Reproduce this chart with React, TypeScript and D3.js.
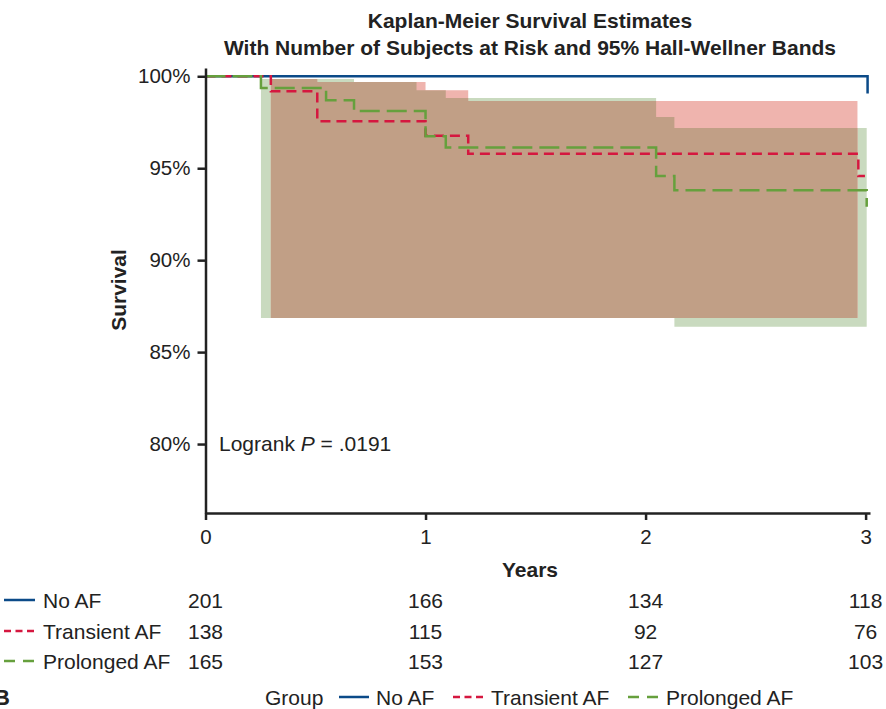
import { useEffect, useRef } from 'react';
import * as d3 from 'd3';

// titles / labels
const titleLines = ['Kaplan-Meier Survival Estimates', 'With Number of Subjects at Risk and 95% Hall-Wellner Bands'];
const groups = ['No AF', 'Transient AF', 'Prolonged AF'];

// KM step curves (years, survival %)
const noAfTime = [0, 3.009];
const noAfSurv = [100, 99.06];
const transientTime = [0, 0.297, 0.508, 1.0, 1.194, 2.967, 2.997];
const transientSurv = [100, 99.18, 97.55, 96.76, 95.78, 94.58, 94.58];
const prolongedTime = [0, 0.252, 0.548, 0.675, 1.0, 1.092, 2.048, 2.131, 3.005];
const prolongedSurv = [100, 99.36, 98.7, 98.11, 96.74, 96.13, 94.58, 93.8, 92.9];

// Hall-Wellner bands
const transientBandTime = [0.297, 0.508, 1.0, 1.194, 2.963];
const transientBandUpper = [99.85, 99.69, 99.24, 98.66, 98.66];
const transientBandLower = [86.86, 86.86, 86.86, 86.86, 86.86];
const prolongedBandTime = [0.252, 0.675, 0.959, 1.092, 2.048, 2.131, 3.005];
const prolongedBandUpper = [99.85, 99.69, 99.24, 98.82, 97.79, 97.19, 97.19];
const prolongedBandLower = [86.86, 86.86, 86.86, 86.86, 86.86, 86.38, 86.38];

// axes
const yearTicks = [0, 1, 2, 3];
const survTicks = [80, 85, 90, 95, 100];

// number at risk
const atRiskNoAf = [201, 166, 134, 118];
const atRiskTransient = [138, 115, 92, 76];
const atRiskProlonged = [165, 153, 127, 103];

const W = 886;
const H = 709;
const FONT = '"Liberation Sans", Arial, Helvetica, sans-serif';
const INK = '#222';
const lineColors = ['#0b4a88', '#d5173f', '#66a03d'];
const lineDash = [null, '10,6', '20,7'];
const legendDash = [null, '7,4.5', '11,8'];

export default function App() {
  const svgRef = useRef<SVGSVGElement>(null);

  useEffect(() => {
    const svg = d3.select(svgRef.current);
    svg.selectAll('*').remove();

    const x = d3.scaleLinear().domain([0, 3.02]).range([205.5, 870]);
    const y = d3.scaleLinear().domain([76.25, 100.45]).range([513, 68]);

    // bands
    const zip3 = (t: number[], lo: number[], hi: number[]) => t.map((d, i) => ({ t: d, lo: lo[i], hi: hi[i] }));
    const area = d3.area<any>()
      .x(d => x(d.t))
      .y0(d => y(d.lo))
      .y1(d => y(d.hi))
      .curve(d3.curveStepAfter);

    const greenBand = zip3(prolongedBandTime, prolongedBandLower, prolongedBandUpper);
    const redBand = zip3(transientBandTime, transientBandLower, transientBandUpper);

    svg.append('defs').append('clipPath').attr('id', 'greenClip')
      .append('path').attr('d', area(greenBand));

    svg.append('path').attr('d', area(greenBand)).attr('fill', '#c9dabf');
    svg.append('path').attr('d', area(redBand)).attr('fill', '#efb4ae');
    // overlap of both bands
    svg.append('path').attr('d', area(redBand)).attr('fill', '#c19f86').attr('clip-path', 'url(#greenClip)');

    // survival curves
    const line = d3.line<any>()
      .x(d => x(d.t))
      .y(d => y(d.s))
      .curve(d3.curveStepAfter);
    const zip2 = (t: number[], s: number[]) => t.map((d, i) => ({ t: d, s: s[i] }));
    const curves = [zip2(noAfTime, noAfSurv), zip2(transientTime, transientSurv), zip2(prolongedTime, prolongedSurv)];
    curves.forEach((c, i) => {
      svg.append('path')
        .attr('d', line(c))
        .attr('fill', 'none')
        .attr('stroke', lineColors[i])
        .attr('stroke-width', 2.5)
        .attr('stroke-dasharray', lineDash[i]);
    });

    // axes
    const yAxis = svg.append('g')
      .attr('transform', `translate(${x(0)},0)`)
      .call(d3.axisLeft(y).tickValues(survTicks).tickFormat(d => `${d}%`).tickSize(8).tickSizeOuter(0).tickPadding(7));
    const xAxis = svg.append('g')
      .attr('transform', `translate(0,${y(76.25)})`)
      .call(d3.axisBottom(x).tickValues(yearTicks).tickFormat(d3.format('d')).tickSize(7).tickSizeOuter(0).tickPadding(9));
    [yAxis, xAxis].forEach(a => {
      a.select('.domain').attr('stroke', INK).attr('stroke-width', 2.5);
      a.selectAll('.tick line').attr('stroke', INK).attr('stroke-width', 2.5);
      a.selectAll('.tick text').attr('fill', INK).style('font-size', '20.5px').style('font-family', FONT);
    });

    const text = (tx: number, ty: number, s: string, opts: any = {}) =>
      svg.append('text')
        .attr('x', tx).attr('y', ty)
        .attr('fill', INK)
        .attr('text-anchor', opts.anchor || 'start')
        .attr('dominant-baseline', 'central')
        .style('font-family', FONT)
        .style('font-size', `${opts.size || 21}px`)
        .style('font-weight', opts.bold ? 'bold' : 'normal')
        .text(s);

    // titles
    text(530, 20, titleLines[0], { anchor: 'middle', bold: true });
    text(530, 47, titleLines[1], { anchor: 'middle', bold: true });

    // axis labels
    text(530, 569, 'Years', { anchor: 'middle', bold: true });
    text(0, 0, 'Survival', { anchor: 'middle', bold: true })
      .attr('transform', 'translate(118,290) rotate(-90)');

    // logrank
    const lr = svg.append('text')
      .attr('x', 219).attr('y', 443)
      .attr('fill', INK)
      .attr('dominant-baseline', 'central')
      .style('font-family', FONT)
      .style('font-size', '21px');
    lr.append('tspan').text('Logrank ');
    lr.append('tspan').style('font-style', 'italic').text('P');
    lr.append('tspan').text(' = .0191');

    // number at risk table
    const rows = [atRiskNoAf, atRiskTransient, atRiskProlonged];
    const rowY = [600, 631, 661];
    rows.forEach((vals, i) => {
      svg.append('line')
        .attr('x1', 4).attr('x2', 35)
        .attr('y1', rowY[i]).attr('y2', rowY[i])
        .attr('stroke', lineColors[i])
        .attr('stroke-width', 2.5)
        .attr('stroke-dasharray', legendDash[i]);
      text(43, rowY[i], groups[i]);
      vals.forEach((v, j) => text(x(yearTicks[j]), rowY[i], String(v), { anchor: 'middle' }));
    });

    // panel letter
    text(-6, 697, 'B', { bold: true, size: 22 });

    // group legend
    const legY = 697;
    text(265, legY, 'Group');
    const legItems = [
      { x1: 339, x2: 369, tx: 376 },
      { x1: 453, x2: 483, tx: 491 },
      { x1: 628, x2: 658, tx: 666 },
    ];
    legItems.forEach((it, i) => {
      svg.append('line')
        .attr('x1', it.x1).attr('x2', it.x2)
        .attr('y1', legY).attr('y2', legY)
        .attr('stroke', lineColors[i])
        .attr('stroke-width', 2.5)
        .attr('stroke-dasharray', legendDash[i]);
      text(it.tx, legY, groups[i]);
    });
  }, []);

  return (
    <svg
      ref={svgRef}
      width={W}
      height={H}
      style={{ position: 'absolute', left: 0, top: 0, background: '#fff' }}
    />
  );
}
